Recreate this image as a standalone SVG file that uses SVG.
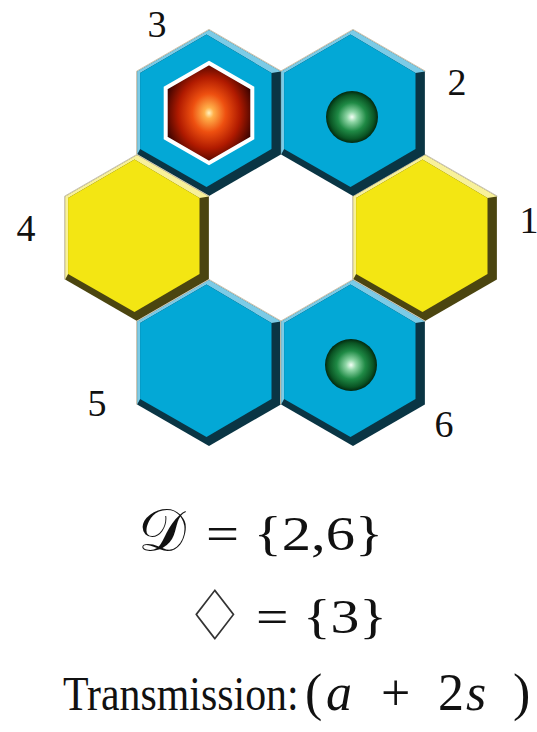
<svg xmlns="http://www.w3.org/2000/svg" xmlns:xlink="http://www.w3.org/1999/xlink" width="537" height="732" viewBox="0 0 537 732">
<style>
.lbl{font-family:"Liberation Serif",serif;font-size:38px;fill:#111;text-anchor:middle}
.math{font-family:"Liberation Serif",serif;fill:#111}
.it{font-style:italic}
.bd{fill:#0a3544}.bl{fill:#7ccbe6}.bf{fill:#03a8d6}
.yd{fill:#4b4510}.yl{fill:#f8f19a}.yf{fill:#f3e613}
.edge{fill:none;stroke:#c9c2ae;stroke-width:1}
</style>
<defs>
<radialGradient id="redG" cx="0.5" cy="0.5" r="0.55">
<stop offset="0" stop-color="#fff3c0"/>
<stop offset="0.1" stop-color="#ffb04a"/>
<stop offset="0.35" stop-color="#ee5010"/>
<stop offset="0.65" stop-color="#b01a00"/>
<stop offset="1" stop-color="#2a0000"/>
</radialGradient>
<radialGradient id="grnG" cx="0.5" cy="0.5" r="0.5">
<stop offset="0" stop-color="#f4fff6"/>
<stop offset="0.2" stop-color="#8fd6a6"/>
<stop offset="0.55" stop-color="#1f8a45"/>
<stop offset="0.85" stop-color="#0a5524"/>
<stop offset="1" stop-color="#03280f"/>
</radialGradient>
<g id="hexBlue">
<polygon class="bd" points="0,-83 71.88,-41.5 71.88,41.5 0,83 -71.88,41.5 -71.88,-41.5"/>
<polygon class="bl" points="-71.88,41.5 -71.88,-41.5 0,-83 71.88,-41.5 62.5,-40 -2.5,-78.5 -68.9,-40 -68.9,36"/>
<polygon class="bf" points="-2.5,-78.5 62.5,-40 62.5,36 -2.5,74 -68.9,36 -68.9,-40"/>
<polyline class="edge" points="-72.4,41.5 -72.4,-41.8 0,-83.6 72.4,-41.8"/>
</g>
<g id="hexYellow">
<polygon class="yd" points="0,-83 71.88,-41.5 71.88,41.5 0,83 -71.88,41.5 -71.88,-41.5"/>
<polygon class="yl" points="-71.88,41.5 -71.88,-41.5 0,-83 71.88,-41.5 62.5,-40 -2.5,-78.5 -68.9,-40 -68.9,36"/>
<polygon class="yf" points="-2.5,-78.5 62.5,-40 62.5,36 -2.5,74 -68.9,36 -68.9,-40"/>
<polyline class="edge" points="-72.4,41.5 -72.4,-41.8 0,-83.6 72.4,-41.8"/>
</g>
</defs>
<rect width="537" height="732" fill="#fff"/>
<g id="connectors"/>
<g id="hex1" transform="translate(425,238)"><use xlink:href="#hexYellow"/></g>
<g id="hex2" transform="translate(353,113)"><use xlink:href="#hexBlue"/><circle cx="-1" cy="4" r="26" fill="url(#grnG)"/></g>
<g id="hex3" transform="translate(209,113)"><use xlink:href="#hexBlue"/><polygon points="0,-50 43.3,-25 43.3,25 0,50 -43.3,25 -43.3,-25" fill="url(#redG)" stroke="#fff" stroke-width="4"/></g>
<g id="hex4" transform="translate(137,238)"><use xlink:href="#hexYellow"/></g>
<g id="hex5" transform="translate(209,363)"><use xlink:href="#hexBlue"/></g>
<g id="hex6" transform="translate(353,363)"><use xlink:href="#hexBlue"/><circle cx="-2" cy="2" r="26" fill="url(#grnG)"/></g>
<g id="labels">
<text class="lbl" x="157" y="37">3</text>
<text class="lbl" x="457" y="95">2</text>
<text class="lbl" x="529" y="233">1</text>
<text class="lbl" x="26" y="241">4</text>
<text class="lbl" x="97" y="416">5</text>
<text class="lbl" x="444" y="437">6</text>
</g>
<g id="formulas">
<text class="math" x="162" y="551" font-size="60" text-anchor="middle">𝒟</text>
<text class="math" x="206" y="550" font-size="48" textLength="177" lengthAdjust="spacingAndGlyphs">= {2,6}</text>
<text x="215" y="640" font-size="70" text-anchor="middle" style="font-family:'DejaVu Sans',sans-serif;fill:#333">♢</text>
<text class="math" x="256" y="633" font-size="48" textLength="131" lengthAdjust="spacingAndGlyphs">= {3}</text>
<text class="math" font-size="48" transform="translate(63,710) scale(0.872,1)">Transmission:</text>
<text class="math" y="710" font-size="52"><tspan x="305">(</tspan><tspan class="it" x="326">a</tspan><tspan x="381">+</tspan><tspan x="438">2</tspan><tspan class="it" x="466">s</tspan><tspan x="513">)</tspan></text>
</g>
</svg>
